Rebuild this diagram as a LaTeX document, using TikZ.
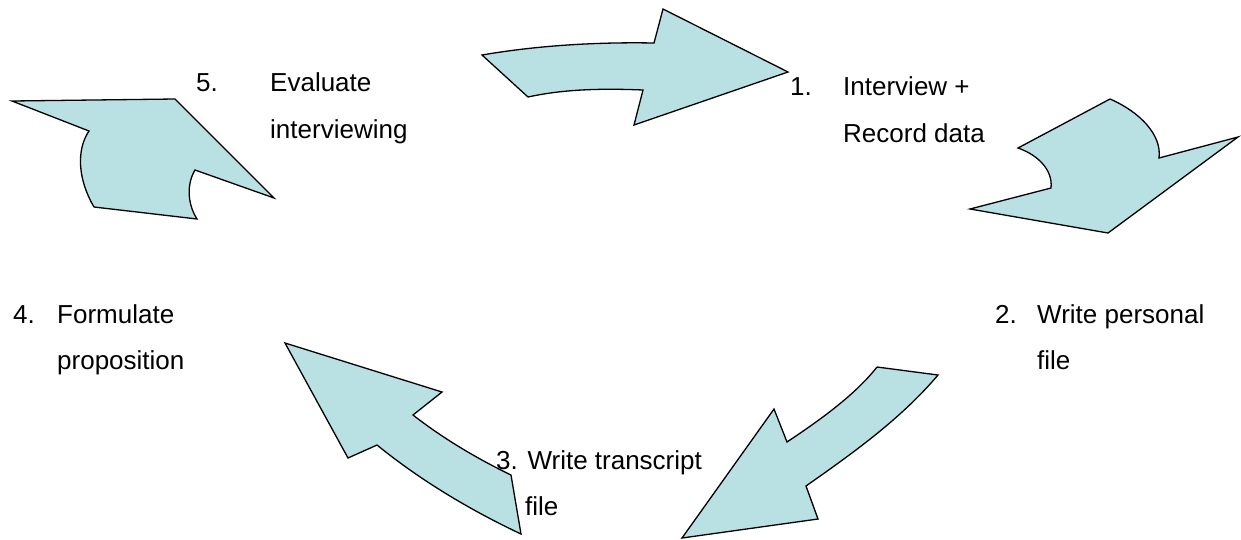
\documentclass[tikz,border=0pt]{standalone}
\usepackage{fontspec}
\setmainfont{Liberation Sans}
\definecolor{arrowfill}{RGB}{185,224,227}
\begin{document}
\begin{tikzpicture}[x=1pt,y=-1pt,
  blockarrow/.style={fill=arrowfill,draw=black,line width=1.3pt,line join=miter},
  label/.style={anchor=base west,inner sep=0pt,font=\fontsize{26}{30}\selectfont}]
\useasboundingbox (0,0) rectangle (1241,539);

% arrow from stage 5 to stage 1 (top)
\draw[blockarrow] (482,55) .. controls (540,45) and (600,42) .. (654,43)
  -- (663,9) -- (788,72) -- (634,125) -- (643,90)
  .. controls (595,88) and (560,90) .. (528,97) -- cycle;

% arrow from stage 1 to stage 2 (right)
\draw[blockarrow] (1110,99) .. controls (1140,112) and (1162,135) .. (1159,158)
  -- (1238,137) -- (1108,233) -- (970,209) -- (1051,188)
  .. controls (1053,170) and (1038,155) .. (1018,148) -- cycle;

% arrow from stage 2 to stage 3 (lower right)
\draw[blockarrow] (877,367) -- (938,375)
  .. controls (900,420) and (850,455) .. (806,486)
  -- (818,519) -- (682,538) -- (774,409) -- (787,442)
  .. controls (820,420) and (855,395) .. (877,367);

% arrow from stage 3 to stage 4 (lower left)
\draw[blockarrow] (285,343) -- (442,392) -- (413,415)
  .. controls (445,440) and (480,460) .. (511,475)
  -- (521,534)
  .. controls (470,510) and (420,480) .. (377,445)
  -- (348,458) -- cycle;

% arrow from stage 4 to stage 5 (left)
\draw[blockarrow] (12,101) -- (175,99) -- (274,198) -- (195,170)
  .. controls (186,185) and (188,205) .. (197,219)
  -- (94,207)
  .. controls (78,180) and (76,150) .. (89,131) -- cycle;

% stage labels
\node[label] (n5) at (196,91) {5.};
\node[label] (t5a) at (270,91) {Evaluate};
\node[label] (t5b) at (270,138) {interviewing};

\node[label] (n1) at (790,95) {1.};
\node[label] (t1a) at (843,95) {Interview +};
\node[label] (t1b) at (843,142) {Record data};

\node[label] (n2) at (995,323) {2.};
\node[label] (t2a) at (1037,323) {Write personal};
\node[label] (t2b) at (1037,369) {file};

\node[label] (n3) at (496,469) {3. Write transcript};
\node[label] (t3b) at (525,515) {file};

\node[label] (n4) at (13,323) {4.};
\node[label] (t4a) at (57,323) {Formulate};
\node[label] (t4b) at (57,369) {proposition};
\end{tikzpicture}
\end{document}
